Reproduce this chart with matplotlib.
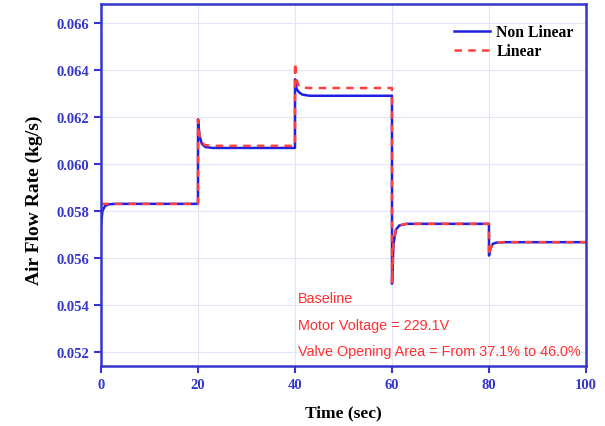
import matplotlib.pyplot as plt

# Time samples (sec) - steps every 20 s with short transients
time = [0, 0.3, 0.8, 1.5, 3, 19.99,
        20, 20.3, 20.8, 21.5, 23, 39.99,
        40, 40.3, 40.8, 41.5, 43, 59.99,
        60, 60.3, 60.8, 61.5, 63, 79.99,
        80, 80.3, 80.8, 81.5, 83, 100]

# Air flow rate (kg/s)
non_linear = [0.0574, 0.0580, 0.0582, 0.05828, 0.0583, 0.0583,
              0.0619, 0.0612, 0.06085, 0.06072, 0.06068, 0.06068,
              0.0636, 0.0632, 0.06305, 0.06295, 0.0629, 0.0629,
              0.0549, 0.0566, 0.0572, 0.05738, 0.05745, 0.05745,
              0.0561, 0.0564, 0.0566, 0.05665, 0.05667, 0.05667]
linear = [0.0583, 0.0583, 0.0583, 0.0583, 0.0583, 0.0583,
          0.0619, 0.0612, 0.0609, 0.0608, 0.06077, 0.06077,
          0.0643, 0.0636, 0.0633, 0.06325, 0.06323, 0.06323,
          0.0549, 0.0566, 0.0572, 0.05738, 0.05745, 0.05745,
          0.0561, 0.0564, 0.0566, 0.05665, 0.05667, 0.05667]

blue = '#3535d0'
serif = 'Liberation Serif'

fig = plt.figure(figsize=(6.05, 4.27), dpi=100)
ax = fig.add_axes([0.167, 0.1405, 0.8016, 0.8475])

ax.plot(time, non_linear, color='#2020e0', lw=1.8, label='Non Linear')
ax.plot(time, linear, color='#ff4040', lw=1.8, ls=(0, (3, 2.5)), label='Linear')

ax.set_xlim(0, 100)
ax.set_ylim(0.0514, 0.0668)
ax.set_xticks([0, 20, 40, 60, 80, 100])
ax.set_yticks([0.052, 0.054, 0.056, 0.058, 0.060, 0.062, 0.064, 0.066])
ax.set_yticklabels(['%.3f' % v for v in ax.get_yticks()])

for s in ax.spines.values():
    s.set_color(blue)
    s.set_linewidth(1.8)
ax.tick_params(direction='out', color=blue, width=1.5, length=5,
               labelcolor=blue, labelsize=10.5)
for lab in ax.get_xticklabels() + ax.get_yticklabels():
    lab.set_fontfamily(serif)
    lab.set_fontweight('bold')

ax.grid(True, color='#e4e4f6', lw=0.8)
ax.set_axisbelow(True)

ax.set_xlabel('Time (sec)', fontfamily=serif, fontweight='bold',
              fontsize=12.5, labelpad=10)
ax.set_ylabel('Air Flow Rate (kg/s)', fontfamily=serif, fontweight='bold',
              fontsize=14, labelpad=10)
ax.yaxis.set_label_coords(-0.12, 0.46)

leg = ax.legend(loc='upper right', bbox_to_anchor=(1.02, 1.005), frameon=False,
                prop={'family': serif, 'weight': 'bold', 'size': 11.3},
                handlelength=2.3, labelspacing=0.2, borderaxespad=1.0,
                handletextpad=0.4)

notes = ['Baseline', 'Motor Voltage = 229.1V',
         'Valve Opening Area = From 37.1% to 46.0%']
for i, txt in enumerate(notes):
    ax.text(40.6, 0.05428 - i * 0.00113, txt, color='#ff3030',
            fontfamily='Liberation Sans', fontsize=10.4, va='center')

plt.savefig('out.png', dpi=100)
